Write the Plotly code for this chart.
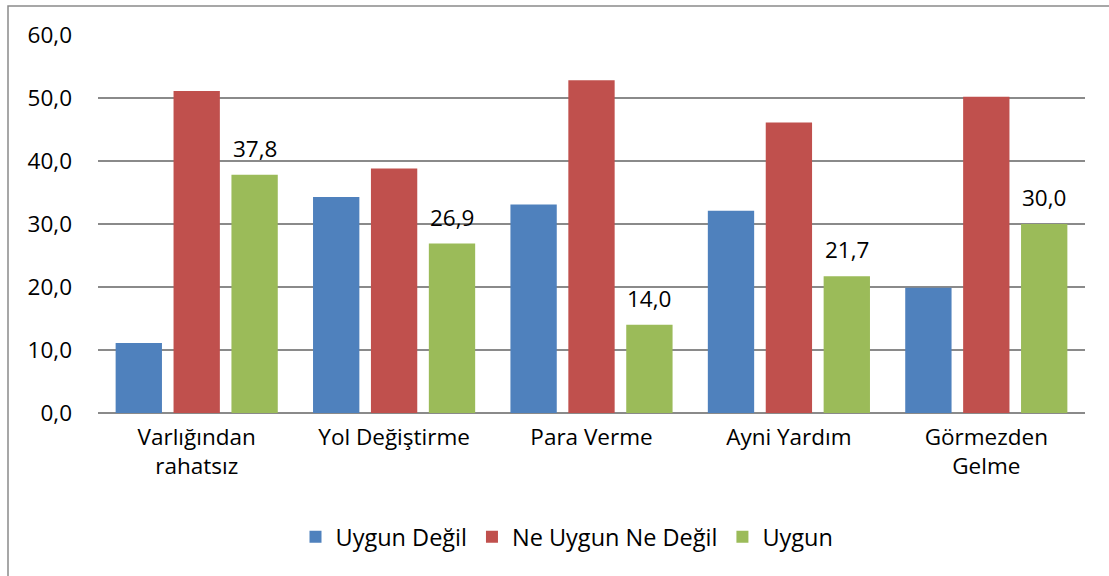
import plotly.graph_objects as go

categories = ["Varlığından<br>rahatsız", "Yol Değiştirme", "Para Verme", "Ayni Yardım", "Görmezden<br>Gelme"]
series_names = ["Uygun Değil", "Ne Uygun Ne Değil", "Uygun"]
uygun_degil = [11.1, 34.3, 33.1, 32.1, 19.9]
ne_uygun_ne_degil = [51.1, 38.8, 52.8, 46.1, 50.2]
uygun = [37.8, 26.9, 14.0, 21.7, 30.0]
colors = ["#4F81BD", "#C0504D", "#9BBB59"]
y_ticks = [0, 10, 20, 30, 40, 50, 60]

FONT = "Open Sans"
FS = 22.5

fig = go.Figure()
fig.add_trace(go.Bar(name=series_names[0], x=categories, y=uygun_degil,
                     marker=dict(color=colors[0], line=dict(width=0))))
fig.add_trace(go.Bar(name=series_names[1], x=categories, y=ne_uygun_ne_degil,
                     marker=dict(color=colors[1], line=dict(width=0))))
fig.add_trace(go.Bar(name=series_names[2], x=categories, y=uygun,
                     marker=dict(color=colors[2], line=dict(width=0))))

L, R, T, B = 98, 24, 35, 163
W, H = 1109, 576
pw, ph = W - L - R, H - T - B
BARGAP = 0.12
slot_px = pw / len(categories) * (1 - BARGAP) / 3

# data labels for the "Uygun" series, placed above the third bar of each group
for cat, v in zip(categories, uygun):
    fig.add_annotation(x=cat, y=v, xref="x", yref="y",
                       text=f"{v:.1f}".replace(".", ","), showarrow=False,
                       xanchor="center", yanchor="bottom",
                       xshift=slot_px, yshift=9,
                       font=dict(family=FONT, size=FS, color="black"))

fig.update_layout(
    width=W, height=H,
    margin=dict(l=L, r=R, t=T, b=B, pad=0),
    barmode="group", bargap=BARGAP, bargroupgap=0.2,
    separators=",.",
    plot_bgcolor="white", paper_bgcolor="white",
    font=dict(family=FONT, size=FS, color="black"),
    showlegend=True,
    legend=dict(orientation="h", x=(567 - L) / pw, xanchor="center",
                y=(H - B - 537) / ph, yanchor="middle",
                font=dict(family=FONT, size=23.5, color="black"),
                itemwidth=30, traceorder="normal"),
    xaxis=dict(showgrid=False, showline=False, zeroline=False, ticks="",
               ticklabelstandoff=8, tickfont=dict(family=FONT, size=FS)),
    yaxis=dict(range=[0, 60], tickvals=y_ticks, tickformat=".1f",
               showgrid=True, gridcolor="#8a8a8a", gridwidth=1.5,
               zeroline=True, zerolinecolor="#8a8a8a", zerolinewidth=1.5,
               showline=False, ticks="", ticklabelstandoff=25,
               tickfont=dict(family=FONT, size=FS)),
    shapes=[dict(type="rect", xref="paper", yref="paper",
                 x0=(8 - L) / pw, x1=(W + 5 - L) / pw,
                 y0=(H - B - (H + 5)) / ph, y1=(H - B - 6) / ph,
                 line=dict(color="#8a8a8a", width=1.5), fillcolor="rgba(0,0,0,0)",
                 layer="below")],
)

fig.write_html("out.html", config={"displayModeBar": False},
               post_script="document.body.style.margin='0';")
